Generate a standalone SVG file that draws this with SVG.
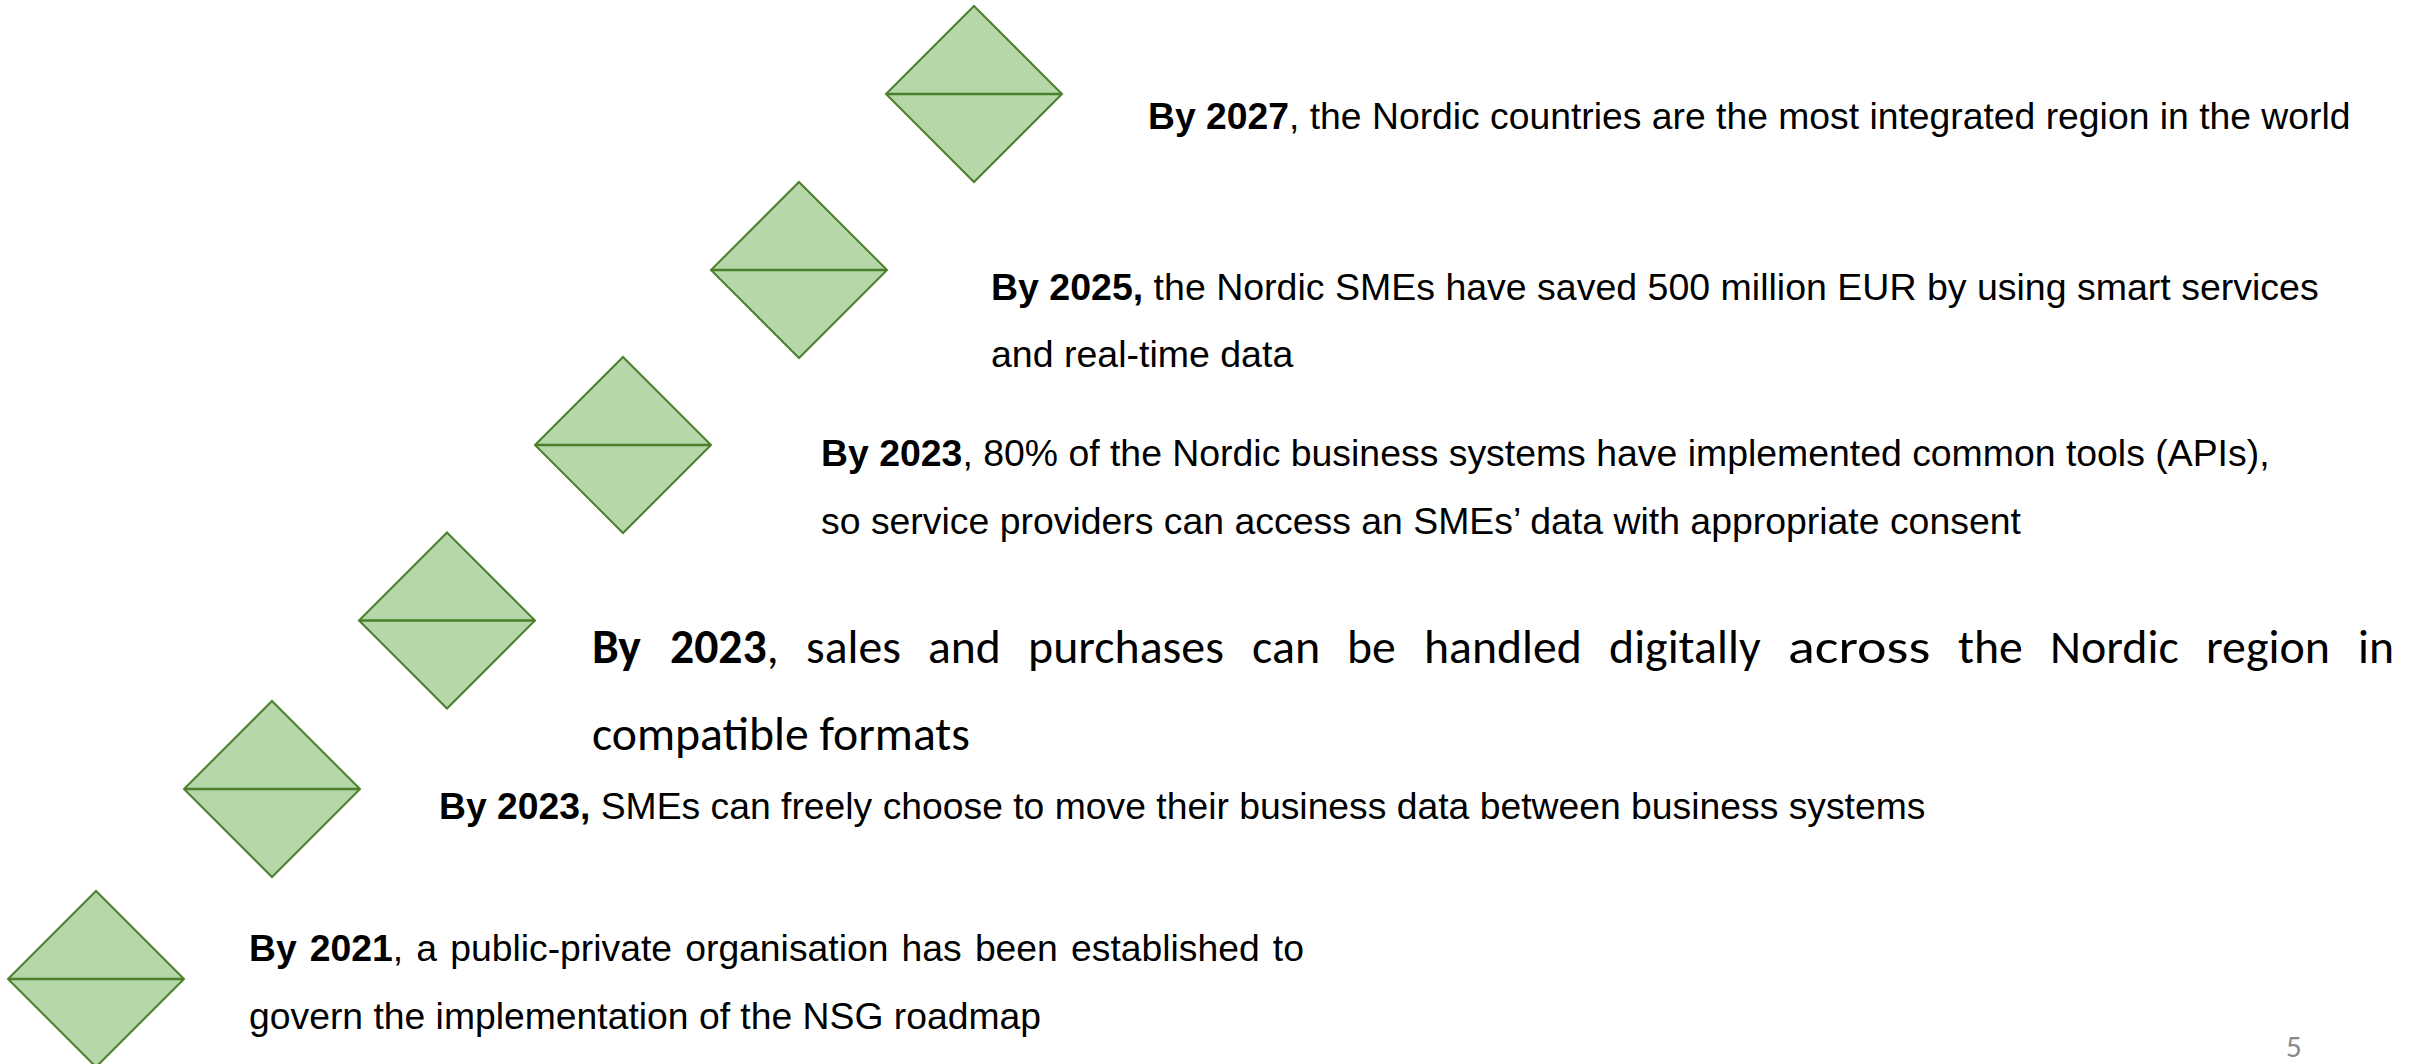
<svg xmlns="http://www.w3.org/2000/svg" width="2425" height="1064" viewBox="0 0 2425 1064">
  <defs>
    <style>
      .dia { fill: #b6d7a8; stroke: #4b7f2b; stroke-width: 2; stroke-linejoin: miter; }
      .mid { stroke: #4b7f2b; stroke-width: 2.5; }
      .t { font-family: "Liberation Sans", Arial, sans-serif; font-size: 37.3px; fill: #000; }
      .c { font-family: Carlito, Calibri, Lato, "Open Sans", sans-serif; font-size: 47.7px; fill: #000; }
      .b { font-weight: bold; }
      .pg { font-family: Carlito, Calibri, Lato, sans-serif; font-size: 31px; fill: #898989; }
    </style>
    <g id="diamond">
      <polygon class="dia" points="0,-88 88,0 0,88 -88,0"/>
      <line class="mid" x1="-88" y1="0" x2="88" y2="0"/>
    </g>
  </defs>
  <rect width="2425" height="1064" fill="#ffffff"/>

  <g id="connectors"></g>

  <g id="m2027">
    <use href="#diamond" x="974" y="94"/>
    <text class="t" x="1148" y="129"><tspan class="b">By 2027</tspan>, the Nordic countries are the most integrated region in the world</text>
  </g>

  <g id="m2025">
    <use href="#diamond" x="799" y="270"/>
    <text class="t" x="991" y="300" style="font-size:37.5px"><tspan class="b">By 2025,</tspan> the Nordic SMEs have saved 500 million EUR by using smart services</text>
    <text class="t" x="991" y="367" style="font-size:37.5px">and real-time data</text>
  </g>

  <g id="m2023a">
    <use href="#diamond" x="623" y="445"/>
    <text class="t" x="821" y="466" style="font-size:37.4px"><tspan class="b">By 2023</tspan>, 80% of the Nordic business systems have implemented common tools (APIs),</text>
    <text class="t" x="821" y="534" style="font-size:37.4px">so service providers can access an SMEs’ data with appropriate consent</text>
  </g>

  <g id="m2023b">
    <use href="#diamond" x="447" y="620.5"/>
    <text class="c" y="663"><tspan class="b" x="592">By</tspan><tspan class="b" x="670">2023</tspan><tspan>,</tspan></text>
    <text class="c" x="806" y="663" textLength="94.8" lengthAdjust="spacingAndGlyphs">sales</text>
    <text class="c" x="928" y="663" textLength="72.9" lengthAdjust="spacingAndGlyphs">and</text>
    <text class="c" x="1028" y="663" textLength="195.9" lengthAdjust="spacingAndGlyphs">purchases</text>
    <text class="c" x="1252" y="663" textLength="68.1" lengthAdjust="spacingAndGlyphs">can</text>
    <text class="c" x="1347" y="663" textLength="48.8" lengthAdjust="spacingAndGlyphs">be</text>
    <text class="c" x="1424" y="663" textLength="157.7" lengthAdjust="spacingAndGlyphs">handled</text>
    <text class="c" x="1609" y="663" textLength="151.6" lengthAdjust="spacingAndGlyphs">digitally</text>
    <text class="c" x="1788" y="663" textLength="142.3" lengthAdjust="spacingAndGlyphs">across</text>
    <text class="c" x="1958" y="663" textLength="64.8" lengthAdjust="spacingAndGlyphs">the</text>
    <text class="c" x="2050" y="663" textLength="128.7" lengthAdjust="spacingAndGlyphs">Nordic</text>
    <text class="c" x="2206" y="663" textLength="124" lengthAdjust="spacingAndGlyphs">region</text>
    <text class="c" x="2358" y="663" textLength="36" lengthAdjust="spacingAndGlyphs">in</text>
    <text class="c" x="592" y="750">compatible formats</text>
  </g>

  <g id="m2023c">
    <use href="#diamond" x="272" y="789"/>
    <text class="t" x="439" y="819"><tspan class="b">By 2023,</tspan> SMEs can freely choose to move their business data between business systems</text>
  </g>

  <g id="m2021">
    <use href="#diamond" x="96" y="979"/>
    <text class="t" x="249" y="961" word-spacing="2.8"><tspan class="b">By 2021</tspan>, a public-private organisation has been established to</text>
    <text class="t" x="249" y="1029">govern the implementation of the NSG roadmap</text>
  </g>

  <text class="pg" x="2286" y="1057">5</text>
</svg>
